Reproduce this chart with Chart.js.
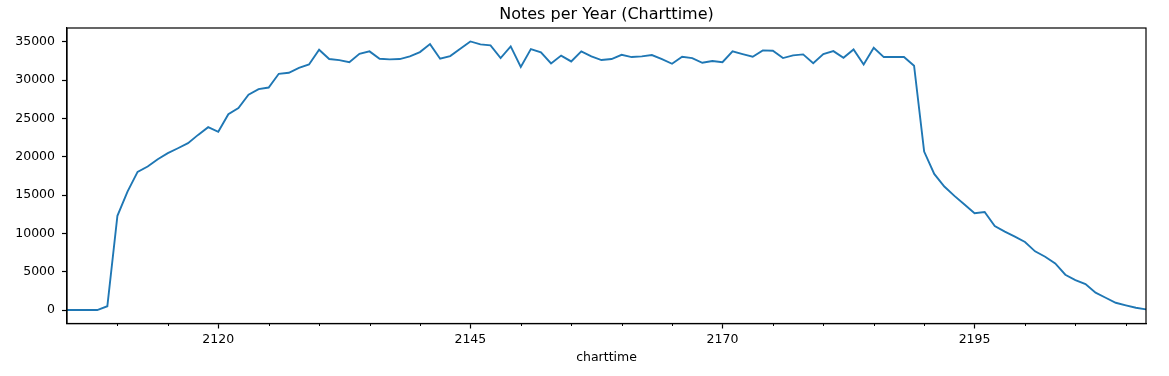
<!DOCTYPE html>
<html lang="en">
<head>
    <meta charset="UTF-8">
    <title>Notes per Year (Charttime)</title>
    <script src="https://cdn.jsdelivr.net/npm/chart.js"></script>
    <style>
        body { margin: 0; padding: 0; background: #fff; }
        #chart { display: block; }
    </style>
</head>
<body>

<canvas id="chart" width="1169" height="376"></canvas>

<script>
    // Years on the x axis (one point per year)
    const years = [];
    for (let y = 2105; y <= 2212; y++) years.push(y);

    // Notes per year
    const notes = [
        0, 0, 0, 0, 500, 12300, 15450, 18020, 18720, 19680,
        20460, 21110, 21770, 22850, 23860, 23250, 25550, 26340, 28080, 28820,
        29030, 30820, 30950, 31600, 32040, 33960, 32740, 32600, 32340, 33430,
        33740, 32780, 32700, 32740, 33090, 33650, 34690, 32780, 33130, 34090,
        35040, 34650, 34520, 32870, 34390, 31700, 34040, 33610, 32170, 33190,
        32430, 33740, 33090, 32610, 32740, 33300, 33000, 33090, 33260, 32740,
        32130, 33040, 32870, 32260, 32480, 32340, 33740, 33390, 33040, 33870,
        33830, 32870, 33220, 33350, 32210, 33390, 33780, 32910, 34000, 32040,
        34220, 33000, 33000, 33000, 31870, 20680, 17760, 16110, 14890, 13760,
        12630, 12800, 10970, 10230, 9580, 8880, 7660, 6960, 6090, 4610,
        3920, 3400, 2270, 1610, 950, 610, 300, 90
    ];

    // Tick labels
    const majorYears = [2120, 2145, 2170, 2195];
    const minorYears = [2110, 2115, 2125, 2130, 2135, 2140, 2150, 2155, 2160, 2165,
                        2175, 2180, 2185, 2190, 2200, 2205, 2210];
    const yTicks = [0, 5000, 10000, 15000, 20000, 25000, 30000, 35000];

    const TITLE = 'Notes per Year (Charttime)';
    const FONT = 'DejaVu Sans';

    // box round the plot, short minor ticks, and the title centred over the plot (like matplotlib)
    const framePlugin = {
        id: 'frame',
        afterDraw(chart) {
            const ctx = chart.ctx;
            const a = chart.chartArea;
            const xs = chart.scales.x;
            ctx.save();
            ctx.strokeStyle = '#000';
            ctx.lineWidth = 1.2;
            ctx.strokeRect(a.left, a.top, a.right - a.left, a.bottom - a.top);
            ctx.lineWidth = 1;
            minorYears.forEach(yr => {
                const px = Math.round(xs.getPixelForValue(yr)) + 0.5;
                ctx.beginPath();
                ctx.moveTo(px, a.bottom);
                ctx.lineTo(px, a.bottom + 2.5);
                ctx.stroke();
            });
            ctx.fillStyle = '#000';
            ctx.font = '16px "' + FONT + '"';
            ctx.textAlign = 'center';
            ctx.textBaseline = 'middle';
            ctx.fillText(TITLE, (a.left + a.right) / 2, a.top - 13);
            ctx.restore();
        }
    };

    new Chart(document.getElementById('chart'), {
        type: 'line',
        data: {
            datasets: [{
                label: 'notes',
                data: years.map((yr, i) => ({x: yr, y: notes[i]})),
                borderColor: '#1f77b4',
                borderWidth: 1.9,
                pointRadius: 0,
                tension: 0,
                fill: false
            }]
        },
        options: {
            responsive: false,
            animation: false,
            layout: { padding: { left: 0, right: 23, top: 28, bottom: 0 } },
            plugins: {
                legend: { display: false },
                tooltip: { enabled: false },
                title: { display: false }
            },
            scales: {
                x: {
                    type: 'linear',
                    min: 2105,
                    max: 2212,
                    afterBuildTicks: s => { s.ticks = majorYears.map(v => ({value: v})); },
                    afterFit: s => { s.height = 52.5; },
                    ticks: {
                        color: '#000',
                        font: { family: FONT, size: 12.5 },
                        padding: 3.5,
                        maxRotation: 0,
                        autoSkip: false,
                        callback: v => String(v)
                    },
                    grid: { drawOnChartArea: false, tickLength: 5, tickColor: '#000', tickWidth: 1.2 },
                    border: { color: '#000', width: 1.2 },
                    title: {
                        display: true,
                        text: 'charttime',
                        color: '#000',
                        font: { family: FONT, size: 12.5 },
                        padding: { top: 0, bottom: 11 }
                    }
                },
                y: {
                    min: -1752,
                    max: 36792,
                    afterBuildTicks: s => { s.ticks = yTicks.map(v => ({value: v})); },
                    afterFit: s => { s.width = 67; },
                    ticks: {
                        color: '#000',
                        font: { family: FONT, size: 12.5 },
                        padding: 7,
                        callback: v => String(v)
                    },
                    grid: { drawOnChartArea: false, tickLength: 5, tickColor: '#000', tickWidth: 1.2 },
                    border: { color: '#000', width: 1.2 }
                }
            }
        },
        plugins: [framePlugin]
    });
</script>

</body>
</html>
